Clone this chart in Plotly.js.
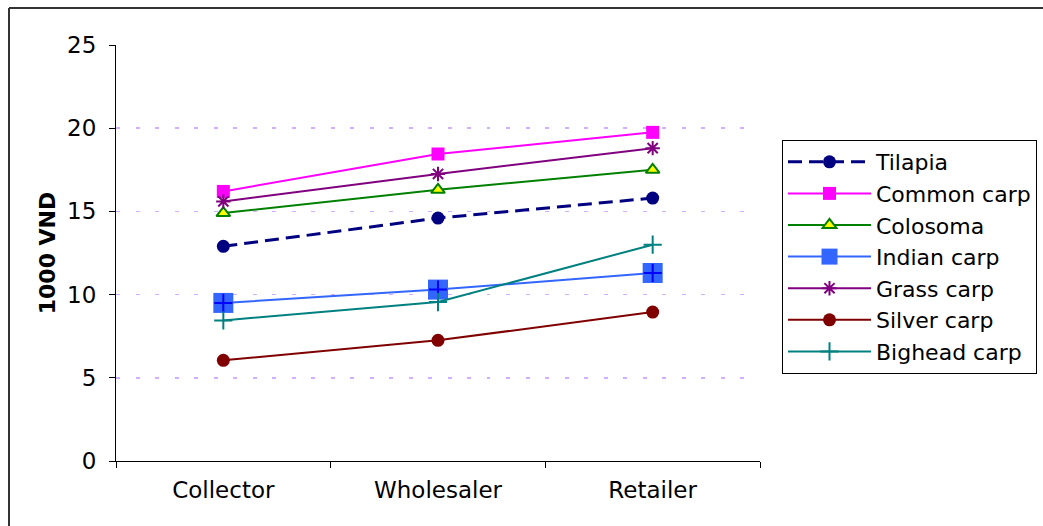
<!DOCTYPE html>
<html>
<head>
<meta charset="utf-8">
<script src="https://cdn.plot.ly/plotly-3.0.1.min.js"></script>
<style>
  html, body { margin: 0; padding: 0; background: #ffffff; }
  #chart { width: 1043px; height: 526px; }
</style>
</head>
<body>
<div id="chart"></div>
<script>
// Price along the marketing chain (1000 VND per kg)
const stages = ["Collector", "Wholesaler", "Retailer"];

const tilapia     = [12.9, 14.6, 15.8];
const commonCarp  = [16.2, 18.45, 19.75];
const colosoma    = [14.9, 16.3, 17.5];
const indianCarp  = [9.5, 10.3, 11.3];
const grassCarp   = [15.6, 17.25, 18.8];
const silverCarp  = [6.05, 7.25, 8.95];
const bigheadCarp = [8.45, 9.55, 13.0];

const yTicks = [0, 5, 10, 15, 20, 25];

const FONT = "DejaVu Sans, Verdana, sans-serif";

const traces = [
  {
    name: "Tilapia", x: stages, y: tilapia, type: "scatter", mode: "lines+markers",
    line: { color: "#000080", width: 3, dash: "14px,7px" },
    marker: { symbol: "circle", size: 13, color: "#000080" }
  },
  {
    name: "Common carp", x: stages, y: commonCarp, type: "scatter", mode: "lines+markers",
    line: { color: "#ff00ff", width: 2 },
    marker: { symbol: "square", size: 13, color: "#ff00ff" }
  },
  {
    name: "Colosoma", x: stages, y: colosoma, type: "scatter", mode: "lines+markers",
    line: { color: "#008000", width: 2 },
    marker: { symbol: "triangle-up", size: 12, color: "#ffff00", line: { color: "#008000", width: 2 } }
  },
  {
    name: "Indian carp", x: stages, y: indianCarp, type: "scatter", mode: "lines+markers",
    line: { color: "#3366ff", width: 2 },
    marker: { symbol: "square", size: 20, color: "#3366ff" },
    legendgroup: "indian"
  },
  {
    name: "Indian carp", x: stages, y: indianCarp, type: "scatter", mode: "markers",
    marker: { symbol: "cross-thin-open", size: 13, color: "#0000ff", line: { color: "#0000ff", width: 2 } },
    legendgroup: "indian", showlegend: false, hoverinfo: "skip"
  },
  {
    name: "Grass carp", x: stages, y: grassCarp, type: "scatter", mode: "lines+markers",
    line: { color: "#800080", width: 2 },
    marker: { symbol: "asterisk-open", size: 12, color: "#800080", line: { color: "#800080", width: 2 } }
  },
  {
    name: "Silver carp", x: stages, y: silverCarp, type: "scatter", mode: "lines+markers",
    line: { color: "#800000", width: 2 },
    marker: { symbol: "circle", size: 13, color: "#800000" }
  },
  {
    name: "Bighead carp", x: stages, y: bigheadCarp, type: "scatter", mode: "lines+markers",
    line: { color: "#008080", width: 2 },
    marker: { symbol: "cross-thin-open", size: 13, color: "#008080", line: { color: "#008080", width: 2 } }
  }
];

// plot area geometry (px)
const W = 1043, H = 526;
const M = { l: 116, r: 283, t: 45, b: 65, autoexpand: false };
const pw = W - M.l - M.r, ph = H - M.t - M.b;
const px = v => (v - M.l) / pw;
const py = v => (H - M.b - v) / ph;

const layout = {
  width: W, height: H,
  margin: M,
  paper_bgcolor: "#ffffff",
  plot_bgcolor: "#ffffff",
  font: { family: FONT, size: 23, color: "#000000" },
  showlegend: true,
  xaxis: {
    type: "category",
    range: [-0.5, 2.5],
    showline: true, linecolor: "#000000", linewidth: 1,
    ticks: "outside", ticklen: 6, tickcolor: "#000000",
    tickson: "boundaries",
    ticklabelstandoff: 8,
    showgrid: false, zeroline: false,
    tickfont: { family: FONT, size: 23, color: "#000000" }
  },
  yaxis: {
    range: [0, 25],
    tickvals: yTicks,
    ticktext: yTicks.map(String),
    showline: true, linecolor: "#000000", linewidth: 1,
    ticks: "outside", ticklen: 6, tickcolor: "#000000",
    ticklabelstandoff: 8,
    showgrid: true, gridcolor: "#d2b0ff", gridwidth: 1.7, griddash: "4px,15.5px",
    zeroline: false,
    tickfont: { family: FONT, size: 23, color: "#000000" },
    title: { text: "<b>1000 VND</b>", font: { family: FONT, size: 22, color: "#000000" }, standoff: 5 }
  },
  legend: {
    x: px(782), y: py(140), xanchor: "left", yanchor: "top",
    bgcolor: "#ffffff", bordercolor: "#000000", borderwidth: 1,
    font: { family: FONT, size: 22, color: "#000000" },
    itemwidth: 83,
    tracegroupgap: 0
  },
  shapes: [
    { type: "line", xref: "paper", yref: "paper", x0: px(9), x1: px(1043), y0: py(8), y1: py(8),
      line: { color: "#333333", width: 2 } },
    { type: "line", xref: "paper", yref: "paper", x0: px(9), x1: px(9), y0: py(8), y1: py(526),
      line: { color: "#333333", width: 2 } }
  ]
};

Plotly.newPlot("chart", traces, layout, { displayModeBar: false, staticPlot: true });
</script>
</body>
</html>
